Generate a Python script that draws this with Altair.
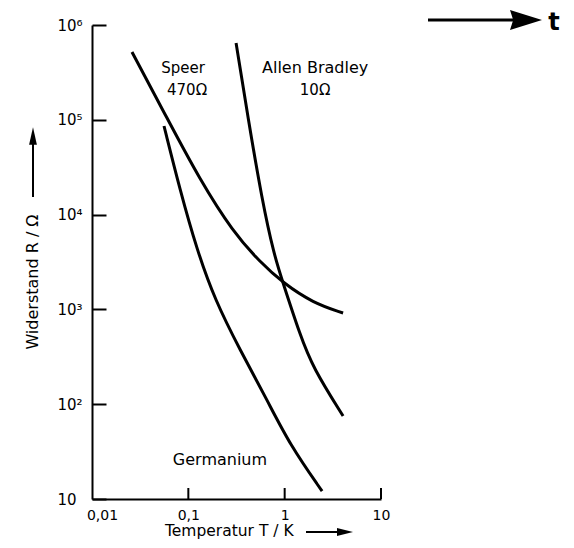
import altair as alt
import pandas as pd

# --- data ---
speer_T = [0.026, 0.060, 0.132, 0.291, 0.555, 0.962, 1.97, 4.04]
speer_R = [5.19e5, 1.045e5, 2.32e4, 6550, 3160, 1900, 1170, 916]

ab_T = [0.313, 0.417, 0.582, 0.776, 0.962, 1.445, 1.97, 4.04]
ab_R = [6.46e5, 1.045e5, 1.43e4, 3750, 1900, 537, 241, 75]

ge_T = [0.0559, 0.082, 0.123, 0.189, 0.344, 0.657, 1.138, 2.446]
ge_R = [8.6e4, 1.82e4, 4230, 1257, 373, 111, 37, 12.1]

x_tick_values = [0.01, 0.1, 1, 10]
x_tick_labels = ["0,01", "0,1", "1", "10"]
y_tick_values = [10, 100, 1000, 10000, 100000, 1000000]
y_tick_labels = ["10", "10²", "10³", "10⁴", "10⁵", "10⁶"]

label_texts = ["Speer", "470Ω", "Allen Bradley", "10Ω", "Germanium"]
label_T = [0.088, 0.097, 2.07, 2.07, 0.213]
label_R = [3.5e5, 2.06e5, 3.5e5, 2.06e5, 25.8]
label_size = [15, 15, 16, 15, 16]

rows = []
for name, T, R in [("Speer", speer_T, speer_R), ("Allen Bradley", ab_T, ab_R), ("Germanium", ge_T, ge_R)]:
    for i, (t, r) in enumerate(zip(T, R)):
        rows.append({"series": name, "T": t, "R": r, "i": i})
df = pd.DataFrame(rows)

labels_df = pd.DataFrame({"text": label_texts, "T": label_T, "R": label_R, "size": label_size})
xt_df = pd.DataFrame({"T": x_tick_values[1:]})
one = pd.DataFrame({"k": [0]})


def label_expr(values, labels):
    expr = "''"
    for v, l in reversed(list(zip(values, labels))):
        expr = f"abs(log(datum.value) - log({v})) < 0.01 ? '{l}' : ({expr})"
    return expr


W, H = 289, 474
FONT = "DejaVu Sans"
xscale = alt.Scale(type="log", domain=[0.01, 10], nice=False)
yscale = alt.Scale(type="log", domain=[10, 1e6], nice=False)
xaxis = alt.Axis(
    values=x_tick_values, labelExpr=label_expr(x_tick_values, x_tick_labels),
    ticks=False, grid=False, title=None, domainColor="black", domainWidth=2,
    labelFont=FONT, labelFontSize=14, labelColor="black", labelPadding=9,
    labelFlush=False,
    labelOffset={"condition": {"test": "datum.value < 0.05", "value": 10}, "value": 0})
# inward y ticks are drawn as grid lines whose dash pattern shows only the first 14 px
yaxis = alt.Axis(
    values=y_tick_values, labelExpr=label_expr(y_tick_values, y_tick_labels),
    ticks=False, grid=True, gridColor="black", gridWidth=2, gridOpacity=1, gridDash=[14, 2000],
    title=None, domainColor="black", domainWidth=2,
    labelFont=FONT, labelFontSize=15, labelColor="black", labelPadding=35,
    labelAlign="left", labelFlush=False)

lines = alt.Chart(df).mark_line(color="black", strokeWidth=3, interpolate="basis").encode(
    x=alt.X("T:Q", scale=xscale, axis=xaxis),
    y=alt.Y("R:Q", scale=yscale, axis=yaxis),
    detail="series:N",
    order="i:Q",
)

xticks = alt.Chart(xt_df).mark_rule(color="black", strokeWidth=2).encode(
    x=alt.X("T:Q", scale=xscale, axis=xaxis), y=alt.value(H), y2=alt.value(H - 11))

labels = alt.Chart(labels_df).mark_text(font=FONT, color="black", align="center", baseline="middle").encode(
    x=alt.X("T:Q", scale=xscale, axis=xaxis),
    y=alt.Y("R:Q", scale=yscale, axis=yaxis),
    text="text:N",
    size=alt.Size("size:Q", scale=None, legend=None),
)

# axis titles and arrows (decorations, placed in pixels relative to plot origin)
ytitle = alt.Chart(one).mark_text(font=FONT, fontSize=16, angle=270, align="center", baseline="middle",
                                  color="black", text="Widerstand  R / Ω").encode(
    x=alt.value(-59), y=alt.value(257))
yarrow = alt.Chart(one).mark_rule(color="black", strokeWidth=2).encode(
    x=alt.value(-59), y=alt.value(172), y2=alt.value(115))
yhead = alt.Chart(one).mark_point(shape="M-0.45,1L0,-1L0.45,1Z", size=300, filled=True, color="black",
                                  opacity=1).encode(x=alt.value(-59), y=alt.value(111))

xtitle = alt.Chart(one).mark_text(font=FONT, fontSize=15.5, align="left", baseline="alphabetic",
                                  color="black", text="Temperatur T / K").encode(
    x=alt.value(73), y=alt.value(511))
xarrow = alt.Chart(one).mark_rule(color="black", strokeWidth=2).encode(
    x=alt.value(214), x2=alt.value(250), y=alt.value(507))
xhead = alt.Chart(one).mark_point(shape="M-1,-0.5L1,0L-1,0.5Z", size=256, filled=True, color="black",
                                  opacity=1).encode(x=alt.value(253), y=alt.value(507))

tarrow = alt.Chart(one).mark_rule(color="black", strokeWidth=3).encode(
    x=alt.value(336), x2=alt.value(422), y=alt.value(-5))
thead = alt.Chart(one).mark_point(shape="M-1,-0.62L1,0L-1,0.62L-0.8,0Z", size=1024, filled=True,
                                  color="black", opacity=1).encode(x=alt.value(434), y=alt.value(-5))
ttext = alt.Chart(one).mark_text(font=FONT, fontSize=24, fontWeight="bold", align="center",
                                 baseline="alphabetic", color="black", text="t").encode(
    x=alt.value(462), y=alt.value(5))

chart = alt.layer(
    lines, xticks, labels, ytitle, yarrow, yhead, xtitle, xarrow, xhead, tarrow, thead, ttext
).properties(
    width=W, height=H,
    autosize=alt.AutoSizeParams(type="none"),
    padding={"left": 84, "top": 17, "right": 185, "bottom": 41},
    background="white",
).configure_view(stroke=None)

chart.save("out.html", embed_options={"renderer": "svg", "actions": False})
